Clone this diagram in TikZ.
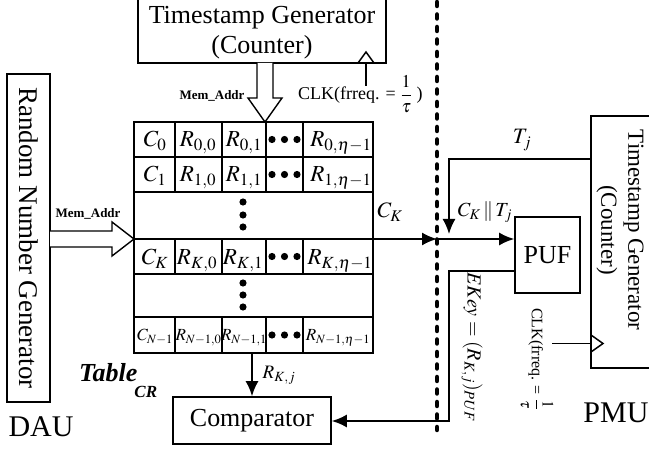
\documentclass[tikz,border=0pt]{standalone}
\usepackage{mathptmx}
\usepackage{fontspec}
\setmainfont{Liberation Serif}
\usetikzlibrary{arrows.meta}
\newcommand\fsz[1]{\fontsize{#1}{#1}\selectfont}
\begin{document}
\begin{tikzpicture}[x=1pt,y=-1pt,
  box/.style={draw, line width=1.6pt, inner sep=0pt},
  conn/.style={line width=1.8pt},
  arr/.style={conn, -{Latex[length=15pt,width=13pt]}},
  hollow/.style={draw, line width=1.4pt, fill=white, line join=miter},
  lbl/.style={inner sep=0pt},
  cell/.style={inner sep=0pt, anchor=base, font=\fsz{23}},
  lastcell/.style={inner sep=0pt, anchor=base, font=\fsz{17}},
  sep/.style={line width=4.5pt, dash pattern=on 4pt off 8.5pt, line cap=round},
]
\useasboundingbox (0,0) rectangle (649,449);

% dotted separator
\draw[sep] (437,2) -- (437,430);

% boxes
\node[box, minimum width=248pt, minimum height=66pt] (tsg) at (262,30) {};
\node[lbl, align=center, font=\fsz{26}] (tsgtxt) at (262,33) {Timestamp Generator\\[4pt](Counter)};

\node[box, minimum width=328pt, minimum height=43pt, rotate=-90, font=\fsz{27}] (rng) at (28.5,238) {Random Number Generator};

\node[box, minimum width=158pt, minimum height=47pt, font=\fsz{26}] (comp) at (252,420.5) {Comparator};
\node[box, minimum width=65pt, minimum height=76pt, font=\fsz{26}] (puf) at (547.5,255) {PUF};

\node[box, minimum width=80pt, minimum height=252pt] (tsg2) at (631,242) {};
\node[lbl, align=center, rotate=-90, font=\fsz{23}] (tsg2txt) at (620,230) {Timestamp Generator\\[4pt](Counter)};

% hollow arrows (Mem_Addr)
\path[hollow] (257,63) -- (257,98) -- (248,98) -- (265,122) -- (282,98) -- (273,98) -- (273,63);
\path[hollow] (50,231) -- (112,231) -- (112,222) -- (134,239) -- (112,256) -- (112,247) -- (50,247);
\node[lbl, font=\fsz{13}\bfseries] (mem1) at (212,96) {Mem\_Addr};
\node[lbl, font=\fsz{13}\bfseries] (mem2) at (88,214) {Mem\_Addr};

% table
\node[box, minimum width=239pt, minimum height=231pt] (tbl) at (253.5,237.5) {};
\foreach \yy in {157,192,239,274,317} \draw[line width=1.6pt] (134,\yy) -- (373,\yy);
\foreach \xx in {175,222,266,303} {
  \draw[line width=1.6pt] (\xx,122) -- (\xx,192);
  \draw[line width=1.6pt] (\xx,239) -- (\xx,274);
  \draw[line width=1.6pt] (\xx,317) -- (\xx,353);
}
% row 0
\node[cell] (c0) at (155,147) {$C_0$};
\node[cell] (r00) at (198,147) {$R_{0,0}$};
\node[cell] (r01) at (244,147) {$R_{0,1}$};
\node[cell] (r0e) at (341,147) {$R_{0,\eta-1}$};
% row 1
\node[cell] (c1) at (155,182) {$C_1$};
\node[cell] (r10) at (198,182) {$R_{1,0}$};
\node[cell] (r11) at (244,182) {$R_{1,1}$};
\node[cell] (r1e) at (341,182) {$R_{1,\eta-1}$};
% row K
\node[cell] (ck0) at (155,265) {$C_K$};
\node[cell] (rk0) at (197,265) {$R_{K,0}$};
\node[cell] (rk1) at (243,265) {$R_{K,1}$};
\node[cell] (rke) at (340,265) {$R_{K,\eta-1}$};
% row N-1
\node[lastcell] (cn) at (155,341) {$C_{N-1}$};
\node[lastcell] (rn0) at (198.5,341) {$R_{N-1,0}$};
\node[lastcell] (rn1) at (244,341) {$R_{N-1,1}$};
\node[lastcell] (rne) at (338,341) {$R_{N-1,\eta-1}$};
% horizontal dots
\foreach \yy in {139.5,174.5,256.5,335} {
  \foreach \xx in {272,284.5,297} \fill (\xx,\yy) circle (3.6pt);
}
% vertical dots
\foreach \yy in {202,215,227,283,295,307} \fill (243,\yy) circle (3.6pt);

\node[lbl, anchor=base west] (tcr) at (79,382) {{\fsz{26}\bfseries\itshape Table}\kern-3pt\raisebox{-16pt}{\fsz{17}\bfseries\itshape CR}};

% top clock
\draw[conn] (366,86) -- (tsg.south -| 366,0);
\draw[line width=1.5pt] (358,63) -- (366,52) -- (374,63);
\node[lbl, anchor=base west, font=\fsz{18}] (clk1) at (298,100) {CLK(frreq. = ${\displaystyle\frac{1}{\tau}}$ )};

% right clock
\draw[conn] (552,343.5) -- (tsg2.west |- 0,343.5);
\draw[line width=1.5pt] (591,335) -- (603,343.5) -- (591,352);
\node[lbl, rotate=-90, font=\fsz{16}] (clk2) at (537,359) {CLK(frreq. = ${\displaystyle\frac{1}{\tau}}$};

% connectors
\coordinate (ck) at (437,239);
\draw[arr] (tbl.east |- ck) -- (ck);
\draw[arr] (ck) -- (puf.west |- ck);
\node[lbl, font=\fsz{22}] (cklbl) at (390,212) {$C_K$};

\coordinate (tj) at (449,159);
\coordinate (tjend) at (449,234);
\draw[arr] (tsg2.west |- tj) -- (tj) -- (tjend);
\node[lbl, font=\fsz{22}] (tjlbl) at (522,140) {$T_j$};
\node[lbl, font=\fsz{20}] (cktj) at (485,212) {$C_K \,\|\, T_j$};

\coordinate (ek1) at (449,271);
\coordinate (ek2) at (449,421);
\draw[arr] (puf.west |- ek1) -- (ek1) -- (ek2) -- (comp.east |- ek2);
\node[lbl, rotate=-90, font=\fsz{20}] (ekey) at (472,347) {$EKey = (R_{K,j})_{PUF}$};

\draw[arr] (tbl.south -| comp.north) -- (comp.north);
\node[lbl, font=\fsz{19}] (rkj) at (279,375) {$R_{K,j}$};

\node[lbl, anchor=base, font=\fsz{30}] (dau) at (41,437) {DAU};
\node[lbl, anchor=base, font=\fsz{30}] (pmu) at (616,423) {PMU};
\end{tikzpicture}
\end{document}
